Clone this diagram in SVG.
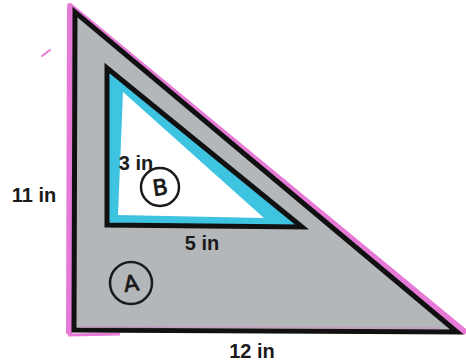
<svg xmlns="http://www.w3.org/2000/svg" width="466" height="364" viewBox="0 0 466 364">
<style>
.lbl{font-family:"Liberation Sans",Arial,sans-serif;font-weight:bold;font-size:20px;fill:#1a1a1a;text-anchor:middle}
.hand{font-family:"DejaVu Sans","Liberation Sans",sans-serif;font-size:22px;fill:#1a1a1a;stroke:#1a1a1a;stroke-width:0.8;text-anchor:middle}
.circ{fill:none;stroke:#1a1a1a;stroke-width:2.5}
</style>
<rect width="466" height="364" fill="#ffffff"/>
<g id="triangleA">
<polyline points="69,334 70,6 466,333" fill="none" stroke="#e77ad6" stroke-width="6" stroke-linejoin="round"/>
<line x1="68" y1="335" x2="120" y2="334" stroke="#e77ad6" stroke-width="3"/>
<polygon points="75,12 74,330 457,332" fill="#b4b7b9" stroke="#111" stroke-width="5" stroke-linejoin="miter"/>
<line x1="80" y1="327" x2="440" y2="328" stroke="#d08ac4" stroke-width="2" opacity="0.5"/>
<circle class="circ" cx="131" cy="283" r="21"/>
<text class="hand" x="131" y="291" transform="rotate(-8 131 283)">A</text>
</g>
<g id="triangleB">
<polygon points="107,68 107,225 302,227" fill="#3ec3e0"/>
<polygon points="123,92 118,215 264,218" fill="#ffffff"/>
<polygon points="107,68 107,225 302,227" fill="none" stroke="#111" stroke-width="5" stroke-linejoin="miter"/>
<circle class="circ" cx="160" cy="187" r="19"/>
<text class="hand" x="160" y="195" transform="rotate(-8 160 187)">B</text>
</g>
<g id="mark">
<line x1="42" y1="56" x2="50" y2="50" stroke="#e77ad6" stroke-width="2" stroke-linecap="round"/>
</g>
<g id="labels">
<text class="lbl" x="34" y="202">11 in</text>
<text class="lbl" x="252" y="358">12 in</text>
<text class="lbl" x="136" y="170">3 in</text>
<text class="lbl" x="202" y="250">5 in</text>
</g>
</svg>
